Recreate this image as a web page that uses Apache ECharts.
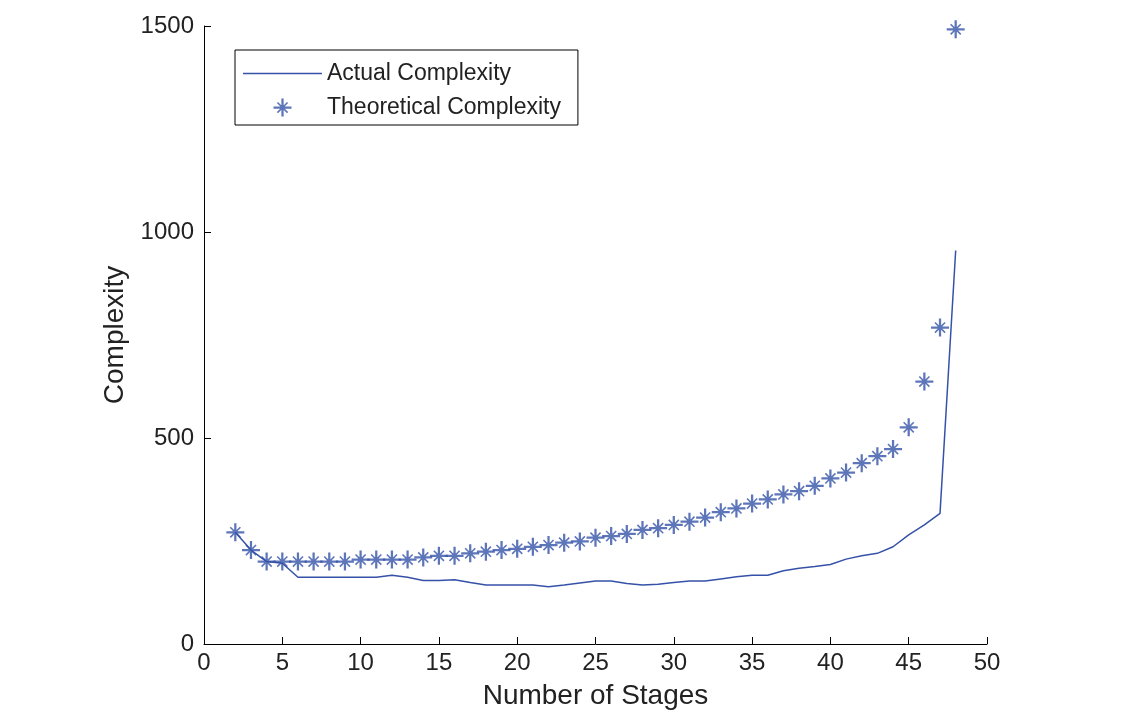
<!DOCTYPE html>
<html>
<head>
<meta charset="utf-8">
<script src="https://cdn.jsdelivr.net/npm/echarts@6/dist/echarts.min.js"></script>
<style>
html,body{margin:0;padding:0;background:#fff;}
#chart{width:1140px;height:715px;}
</style>
</head>
<body>
<div id="chart"></div>
<script>
var stages = [2,3,4,5,6,7,8,9,10,11,12,13,14,15,16,17,18,19,20,21,22,23,24,25,26,27,28,29,30,31,32,33,34,35,36,37,38,39,40,41,42,43,44,45,46,47,48];
var actualComplexity = [271,228,200,196,162,162,162,162,162,162,167,162,154,154,156,149,143,143,143,143,139,143,148,153,153,147,143,145,149,153,153,158,163,167,167,178,184,188,193,206,214,220,236,265,289,317,955];
var theoreticalComplexity = [271,228,200,200,200,200,200,200,205,205,205,205,210,214,214,220,224,228,231,236,240,246,249,258,262,267,277,281,289,297,307,320,329,341,351,363,371,384,402,416,439,456,473,526,637,768,1492];
var xTicks = [0,5,10,15,20,25,30,35,40,45,50];
var yTicks = [0,500,1000,1500];

var actualData = stages.map(function(s,i){return [s, actualComplexity[i]];});
var theoData = stages.map(function(s,i){return [s, theoreticalComplexity[i]];});

var starPath = 'path://M-8,-1L8,-1L8,1L-8,1Z M-1,-8L1,-8L1,8L-1,8Z M-5,-4L-4,-5L5,4L4,5Z M4,-5L5,-4L-4,5L-5,4Z M-2.2,-2.2L2.2,-2.2L2.2,2.2L-2.2,2.2Z';
var blue = '#3552a8';
var font = 'Liberation Sans, Arial, sans-serif';

var chart = echarts.init(document.getElementById('chart'), null, {renderer:'canvas'});
chart.setOption({
  backgroundColor:'#ffffff',
  animation:false,
  grid:{left:204, right:153, top:26, bottom:71, containLabel:false},
  legend:{
    left:235, top:50,
    orient:'vertical',
    itemGap:11,
    padding:[12,17,6,8],
    borderColor:'#000', borderWidth:1,
    backgroundColor:'#fff',
    itemWidth:79, itemHeight:18,
    textStyle:{fontFamily:font, fontSize:23, color:'#222'},
    data:[
      {name:'Actual Complexity', icon:'path://M0,9L79,9L79,10.5L0,10.5Z'},
      {name:'Theoretical Complexity'}
    ]
  },
  xAxis:{
    type:'value', min:0, max:50, interval:5,
    name:'Number of Stages', nameLocation:'middle', nameGap:38,
    nameTextStyle:{fontFamily:font, fontSize:28, color:'#222'},
    axisLine:{show:true, lineStyle:{color:'#000', width:1}},
    axisTick:{show:true, inside:true, length:7, lineStyle:{color:'#000'}},
    axisLabel:{fontFamily:font, fontSize:24, color:'#222', margin:7,
      customValues: xTicks},
    splitLine:{show:false}
  },
  yAxis:{
    type:'value', min:0, max:1500, interval:500,
    name:'Complexity', nameLocation:'middle', nameGap:72,
    nameTextStyle:{fontFamily:font, fontSize:28, color:'#222'},
    axisLine:{show:true, lineStyle:{color:'#000', width:1}},
    axisTick:{show:true, inside:true, length:7, lineStyle:{color:'#000'}},
    axisLabel:{fontFamily:font, fontSize:24, color:'#222', margin:10,
      customValues: yTicks,
      formatter:function(v){return String(v);}},
    splitLine:{show:false}
  },
  series:[
    {
      name:'Actual Complexity', type:'line', data:actualData,
      showSymbol:false, symbol:'none',
      lineStyle:{color:blue, width:1.5},
      itemStyle:{color:blue}
    },
    {
      name:'Theoretical Complexity', type:'scatter', data:theoData,
      symbol:starPath, symbolSize:18,
      itemStyle:{color:blue}
    }
  ]
});
</script>
</body>
</html>
